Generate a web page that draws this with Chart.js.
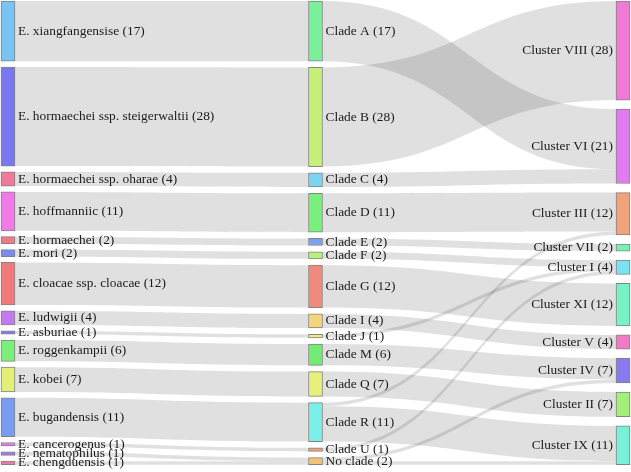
<!DOCTYPE html>
<html>
<head>
<meta charset="utf-8">
<script src="https://cdn.jsdelivr.net/npm/chart.js@4"></script>
<style>
  html, body { margin: 0; padding: 0; background: #ffffff; }
  #wrap { width: 631px; height: 472px; }
</style>
</head>
<body>
<div id="wrap"><canvas id="c" width="631" height="472"></canvas></div>
<script>
// ---------- DATA ----------
const speciesNames = [
  "E. xiangfangensise", "E. hormaechei ssp. steigerwaltii", "E. hormaechei ssp. oharae",
  "E. hoffmanniic", "E. hormaechei", "E. mori", "E. cloacae ssp. cloacae", "E. ludwigii",
  "E. asburiae", "E. roggenkampii", "E. kobei", "E. bugandensis", "E. cancerogenus",
  "E. nematophilus", "E. chengduensis"
];
const speciesCounts = [17, 28, 4, 11, 2, 2, 12, 4, 1, 6, 7, 11, 1, 1, 1];

const cladeNames = [
  "Clade A", "Clade B", "Clade C", "Clade D", "Clade E", "Clade F", "Clade G",
  "Clade I", "Clade J", "Clade M", "Clade Q", "Clade R", "Clade U", "No clade"
];
const cladeCounts = [17, 28, 4, 11, 2, 2, 12, 4, 1, 6, 7, 11, 1, 2];

const clusterNames = [
  "Cluster VIII", "Cluster VI", "Cluster III", "Cluster VII", "Cluster I",
  "Cluster XI", "Cluster V", "Cluster IV", "Cluster II", "Cluster IX"
];
const clusterCounts = [28, 21, 12, 2, 4, 12, 4, 7, 7, 11];

// species -> clade links
const link1Source = [
  "E. xiangfangensise", "E. hormaechei ssp. steigerwaltii", "E. hormaechei ssp. oharae",
  "E. hoffmanniic", "E. hormaechei", "E. mori", "E. cloacae ssp. cloacae", "E. ludwigii",
  "E. asburiae", "E. roggenkampii", "E. kobei", "E. bugandensis", "E. cancerogenus",
  "E. nematophilus", "E. chengduensis"
];
const link1Target = [
  "Clade A", "Clade B", "Clade C", "Clade D", "Clade E", "Clade F", "Clade G", "Clade I",
  "Clade J", "Clade M", "Clade Q", "Clade R", "Clade U", "No clade", "No clade"
];
const link1Value = [17, 28, 4, 11, 2, 2, 12, 4, 1, 6, 7, 11, 1, 1, 1];

// clade -> cluster links
const link2Source = [
  "Clade A", "Clade B", "Clade C", "Clade D", "Clade E", "Clade F", "Clade G", "Clade I",
  "Clade J", "Clade M", "Clade Q", "Clade R", "Clade R", "Clade U", "No clade", "No clade"
];
const link2Target = [
  "Cluster VI", "Cluster VIII", "Cluster VI", "Cluster III", "Cluster VII", "Cluster I",
  "Cluster XI", "Cluster V", "Cluster I", "Cluster IV", "Cluster II", "Cluster III",
  "Cluster IX", "Cluster I", "Cluster IV", "Cluster IX"
];
const link2Value = [17, 28, 4, 11, 2, 2, 12, 4, 1, 6, 7, 1, 10, 1, 1, 1];

// ---------- STYLES ----------
const speciesColors = [
  "#78c4f2", "#7a78f0", "#f07a98", "#f07ae8", "#f07a86", "#7a8cf0", "#f07a7a", "#c27af0",
  "#8a7af0", "#7af07a", "#e2f07a", "#7a9cf0", "#e07af0", "#a27af0", "#f07aa2"
];
const cladeColors = [
  "#7af09a", "#c6f07a", "#7ad6f0", "#7af07c", "#7aa2f0", "#baf07a", "#f08a7c", "#f2d67a",
  "#f0ee7a", "#72ec72", "#e8f07a", "#7af0e8", "#f0a27a", "#f0c27a"
];
const clusterColors = [
  "#f07ad6", "#e27af0", "#f0a27a", "#7af0b2", "#7ae2f0", "#7af0c6", "#f07ac6", "#8a7af0",
  "#a2f07a", "#7af0d8"
];

const SPAN = 131;          // vertical span of each column, in value units
const NODE_W = 14;         // node thickness in px
const LINK_COLOR = "rgba(0,0,0,0.12)";
const FONT = "13.4px 'Liberation Serif', 'Times New Roman', serif";

// ---------- LAYOUT (value units) ----------
function layoutColumn(names, counts, col) {
  const total = counts.reduce((a, b) => a + b, 0);
  const gap = (SPAN - total) / (names.length - 1);
  let y = 0;
  return names.map((n, i) => {
    const node = { name: n, value: counts[i], col: col, y0: y, y1: y + counts[i] };
    y += counts[i] + gap;
    return node;
  });
}
const columns = [
  layoutColumn(speciesNames, speciesCounts, 0),
  layoutColumn(cladeNames, cladeCounts, 1),
  layoutColumn(clusterNames, clusterCounts, 2)
];
const nodeMap = {};
columns.forEach(c => c.forEach(n => { nodeMap[n.col + ":" + n.name] = n; }));

function buildLinks(srcNames, tgtNames, vals, srcCol) {
  return srcNames.map((s, i) => ({
    source: nodeMap[srcCol + ":" + s],
    target: nodeMap[(srcCol + 1) + ":" + tgtNames[i]],
    value: vals[i]
  }));
}
const links = buildLinks(link1Source, link1Target, link1Value, 0)
  .concat(buildLinks(link2Source, link2Target, link2Value, 1));

// link offsets: outgoing sorted by target y, incoming sorted by source y
columns.flat().forEach(node => {
  const outs = links.filter(l => l.source === node).sort((a, b) => a.target.y0 - b.target.y0);
  let off = node.y0;
  outs.forEach(l => { l.sy0 = off; l.sy1 = off + l.value; off += l.value; });
  const ins = links.filter(l => l.target === node).sort((a, b) => a.source.y0 - b.source.y0);
  off = node.y0;
  ins.forEach(l => { l.ty0 = off; l.ty1 = off + l.value; off += l.value; });
});

// ---------- CHART ----------
const datasets = columns.map((col, ci) => ({
  data: col.map(n => ({ x: ci, y: [n.y0, n.y1] })),
  backgroundColor: [speciesColors, cladeColors, clusterColors][ci],
  borderColor: "rgba(90,90,90,0.75)",
  borderWidth: 1,
  borderSkipped: false,
  barThickness: NODE_W,
  grouped: false
}));

const linkPlugin = {
  id: "sankeyLinks",
  beforeDatasetsDraw(chart) {
    const ctx = chart.ctx, xs = chart.scales.x, ys = chart.scales.y;
    ctx.save();
    ctx.fillStyle = LINK_COLOR;
    links.forEach(l => {
      const x0 = xs.getPixelForValue(l.source.col) + NODE_W / 2;
      const x1 = xs.getPixelForValue(l.target.col) - NODE_W / 2;
      const xm = (x0 + x1) / 2;
      const a0 = ys.getPixelForValue(l.sy0), a1 = ys.getPixelForValue(l.sy1);
      const b0 = ys.getPixelForValue(l.ty0), b1 = ys.getPixelForValue(l.ty1);
      ctx.beginPath();
      ctx.moveTo(x0, a0);
      ctx.bezierCurveTo(xm, a0, xm, b0, x1, b0);
      ctx.lineTo(x1, b1);
      ctx.bezierCurveTo(xm, b1, xm, a1, x0, a1);
      ctx.closePath();
      ctx.fill();
    });
    ctx.restore();
  },
  afterDatasetsDraw(chart) {
    const ctx = chart.ctx, xs = chart.scales.x, ys = chart.scales.y;
    ctx.save();
    ctx.font = FONT;
    ctx.fillStyle = "#1a1a1a";
    ctx.textBaseline = "middle";
    columns.forEach((col, ci) => {
      col.forEach(n => {
        const cx = xs.getPixelForValue(ci);
        const cy = ys.getPixelForValue((n.y0 + n.y1) / 2);
        const label = n.name + " (" + n.value + ")";
        if (ci === 2) {
          ctx.textAlign = "right";
          ctx.fillText(label, cx - NODE_W / 2 - 3, cy);
        } else {
          ctx.textAlign = "left";
          ctx.fillText(label, cx + NODE_W / 2 + 3, cy);
        }
      });
    });
    ctx.restore();
  }
};

new Chart(document.getElementById("c"), {
  type: "bar",
  data: { datasets: datasets },
  options: {
    responsive: false,
    animation: false,
    events: [],
    layout: { padding: 0 },
    plugins: { legend: { display: false }, tooltip: { enabled: false } },
    scales: {
      x: { type: "linear", display: false, offset: false, min: -0.026, max: 2.026 },
      y: { type: "linear", display: false, reverse: true, min: -0.28, max: 133.05 }
    }
  },
  plugins: [linkPlugin]
});
</script>
</body>
</html>
